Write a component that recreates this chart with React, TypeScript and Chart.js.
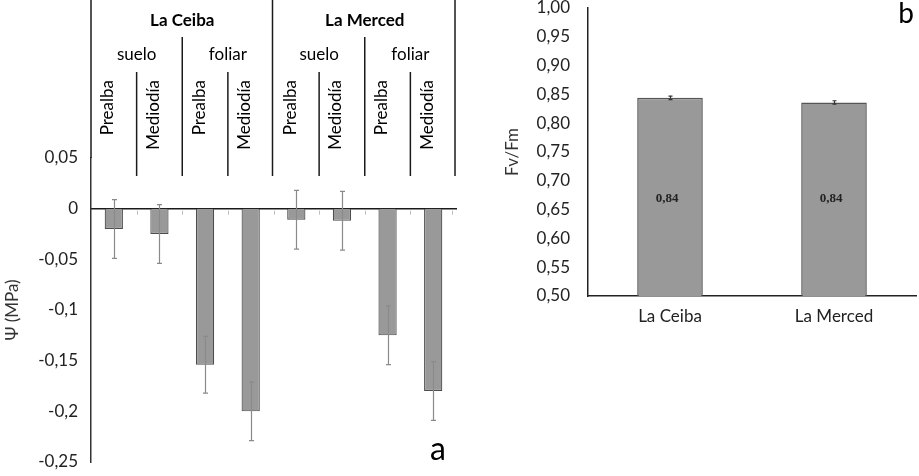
import React, { useEffect, useRef } from "react";
import { Chart, registerables } from "chart.js";
Chart.register(...registerables);

const FONT = "Lato, 'Open Sans', sans-serif";

// ---- Panel a data ----
const sites = ["La Ceiba", "La Merced"];
const sources = ["suelo", "foliar"];
const psiLabels = ["Prealba", "Mediodía", "Prealba", "Mediodía", "Prealba", "Mediodía", "Prealba", "Mediodía"];
const psiValues = [-0.02, -0.025, -0.154, -0.2, -0.011, -0.012, -0.125, -0.18];
const psiErrors = [0.029, 0.029, 0.028, 0.029, 0.029, 0.029, 0.029, 0.029];
const psiTicks = [0.05, 0, -0.05, -0.1, -0.15, -0.2, -0.25];

// ---- Panel b data ----
const fvLabels = ["La Ceiba", "La Merced"];
const fvValues = [0.844, 0.836];
const fvErrors = [0.003, 0.003];
const fvValueLabels = ["0,84", "0,84"];
const fvRounded = [0.84, 0.84];
const fvTicks = [0.5, 0.55, 0.6, 0.65, 0.7, 0.75, 0.8, 0.85, 0.9, 0.95, 1.0];

function fmtGeneral(v: number) {
  const r = Math.round(v * 100) / 100;
  return String(r).replace(".", ",");
}

function errorPlugin(id: string, values: number[], errors: number[], color: string, cap: number, width: number) {
  return {
    id,
    afterDatasetsDraw(chart: any) {
      const meta = chart.getDatasetMeta(0);
      const ys = chart.scales.y;
      const ctx = chart.ctx;
      ctx.save();
      ctx.strokeStyle = color;
      ctx.lineWidth = width;
      meta.data.forEach((bar: any, i: number) => {
        const x = Math.round(bar.x) + 0.5;
        const t = ys.getPixelForValue(values[i] + errors[i]);
        const b = ys.getPixelForValue(values[i] - errors[i]);
        ctx.beginPath();
        ctx.moveTo(x, t);
        ctx.lineTo(x, b);
        ctx.moveTo(x - cap / 2, t);
        ctx.lineTo(x + cap / 2, t);
        ctx.moveTo(x - cap / 2, b);
        ctx.lineTo(x + cap / 2, b);
        ctx.stroke();
      });
      ctx.restore();
    },
  };
}

const headerPlugin = {
  id: "header",
  afterDraw(chart: any) {
    const ctx = chart.ctx;
    const xs = chart.scales.x;
    const ys = chart.scales.y;
    const area = chart.chartArea;
    const half = (xs.getPixelForValue(1) - xs.getPixelForValue(0)) / 2;
    const bx = (i: number) => xs.getPixelForValue(0) - half + i * 2 * half;
    const n = psiLabels.length;
    const yBottom = 176;
    const y0 = ys.getPixelForValue(0);
    ctx.save();
    // small tick marks under the zero line at category boundaries
    ctx.strokeStyle = "#bdbdbd";
    ctx.lineWidth = 1;
    for (let i = 1; i <= n; i++) {
      const x = Math.round(bx(i) - (i === n ? 4 : 0)) + 0.5;
      ctx.beginPath();
      ctx.moveTo(x, y0 + 2);
      ctx.lineTo(x, y0 + 6);
      ctx.stroke();
    }
    ctx.strokeStyle = "#1a1a1a";
    ctx.lineWidth = 1.5;
    const vline = (x: number, a: number, b: number) => {
      ctx.beginPath();
      ctx.moveTo(x, a);
      ctx.lineTo(x, b);
      ctx.stroke();
    };
    // extension of the y axis up through the header
    vline(area.left, 0, area.top);
    for (let i = 1; i <= n; i++) {
      if (i % 4 === 0) vline(bx(i) - 1, 0, yBottom);
      else if (i % 2 === 0) vline(bx(i), 37, yBottom);
      else vline(bx(i), 72, yBottom);
    }
    ctx.fillStyle = "#000";
    ctx.textAlign = "center";
    ctx.textBaseline = "middle";
    ctx.font = `bold 17px ${FONT}`;
    sites.forEach((s, k) => {
      ctx.fillText(s, (bx(k * 4) + bx(k * 4 + 4)) / 2, 21);
    });
    ctx.font = `17px ${FONT}`;
    for (let k = 0; k < n / 2; k++) {
      ctx.fillText(sources[k % 2], (bx(k * 2) + bx(k * 2 + 2)) / 2, 55);
    }
    psiLabels.forEach((lab, i) => {
      const cx = xs.getPixelForValue(i) - 6;
      ctx.save();
      ctx.translate(cx, 80);
      ctx.rotate(-Math.PI / 2);
      ctx.textAlign = "right";
      ctx.textBaseline = "middle";
      ctx.fillText(lab, 0, 0);
      ctx.restore();
    });
    // panel letter
    ctx.font = `32px ${FONT}`;
    ctx.textAlign = "center";
    ctx.textBaseline = "alphabetic";
    ctx.fillText("a", area.right - 18, 460);
    ctx.restore();
  },
};

const valueLabelPlugin = {
  id: "valueLabels",
  afterDraw(chart: any) {
    const meta = chart.getDatasetMeta(0);
    const ys = chart.scales.y;
    const ctx = chart.ctx;
    ctx.save();
    ctx.fillStyle = "#222222";
    ctx.font = "bold 13px serif";
    ctx.textAlign = "center";
    ctx.textBaseline = "middle";
    const base = ys.getPixelForValue(ys.min);
    meta.data.forEach((bar: any, i: number) => {
      const top = ys.getPixelForValue(fvRounded[i]);
      ctx.fillText(fvValueLabels[i], bar.x - 3, (top + base) / 2 + 1);
    });
    ctx.font = `28px ${FONT}`;
    ctx.fillStyle = "#000";
    ctx.textBaseline = "alphabetic";
    ctx.fillText("b", chart.chartArea.right - 10, 23);
    ctx.restore();
  },
};

function PanelA() {
  const ref = useRef<HTMLCanvasElement>(null);
  useEffect(() => {
    const chart = new Chart(ref.current!, {
      type: "bar",
      data: {
        labels: psiLabels,
        datasets: [
          {
            data: psiValues,
            backgroundColor: "#999999",
            borderColor: "#4d4d4d",
            borderWidth: 1.2,
            barPercentage: 0.4,
            categoryPercentage: 1,
          },
        ],
      },
      options: {
        responsive: false,
        animation: false,
        events: [],
        layout: { padding: { top: 158, right: 14, bottom: 14, left: 0 } },
        plugins: { legend: { display: false }, tooltip: { enabled: false } },
        scales: {
          x: {
            position: { y: 0 } as any,
            offset: true,
            grid: { display: false, drawOnChartArea: false, drawTicks: false },
            border: { display: true, color: "#1a1a1a", width: 1.5 },
            ticks: { display: false },
          },
          y: {
            min: -0.25,
            max: 0.05,
            afterBuildTicks: (s: any) => {
              s.ticks = psiTicks.map((v) => ({ value: v }));
            },
            afterFit: (s: any) => {
              s.width = 91;
              s.paddingTop = 0;
              s.paddingBottom = 0;
            },
            grid: { display: false, drawTicks: false },
            border: { color: "#333", width: 1.5 },
            ticks: {
              padding: 13,
              color: "#222",
              font: { family: FONT, size: 17 },
              callback: (v: any) => fmtGeneral(Number(v)),
            },
            title: {
              display: true,
              text: "Ψ (MPa)",
              color: "#333",
              font: { family: FONT, size: 17 },
              padding: { top: 2, bottom: 0 },
            },
          },
        },
      },
      plugins: [errorPlugin("errA", psiValues, psiErrors, "#8a8a8a", 5, 1.2), headerPlugin],
    });
    return () => chart.destroy();
  }, []);
  return (
    <canvas
      ref={ref}
      width={470}
      height={476}
      style={{ position: "absolute", left: 0, top: 0, width: 470, height: 476 }}
    />
  );
}

function PanelB() {
  const ref = useRef<HTMLCanvasElement>(null);
  useEffect(() => {
    const chart = new Chart(ref.current!, {
      type: "bar",
      data: {
        labels: fvLabels,
        datasets: [
          {
            data: fvValues,
            backgroundColor: "#999999",
            borderColor: "#555555",
            borderWidth: 1.5,
            barPercentage: 0.4,
            categoryPercentage: 1,
          },
        ],
      },
      options: {
        responsive: false,
        animation: false,
        events: [],
        layout: { padding: { top: 8, right: 3, bottom: 0, left: 0 } },
        plugins: { legend: { display: false }, tooltip: { enabled: false } },
        scales: {
          x: {
            grid: { display: false, drawTicks: false },
            border: { color: "#222", width: 1.5 },
            afterFit: (s: any) => {
              s.height = 34;
            },
            ticks: { padding: 10, color: "#222", font: { family: FONT, size: 17 } },
          },
          y: {
            min: 0.5,
            max: 1.0,
            afterBuildTicks: (s: any) => {
              s.ticks = fvTicks.map((v) => ({ value: v }));
            },
            afterFit: (s: any) => {
              s.width = 128;
              s.paddingTop = 0;
              s.paddingBottom = 0;
            },
            grid: { display: false, drawTicks: false },
            border: { color: "#222", width: 1.5 },
            ticks: {
              padding: 18,
              color: "#222",
              font: { family: FONT, size: 17 },
              callback: (v: any) => Number(v).toFixed(2).replace(".", ","),
            },
            title: {
              display: true,
              text: "Fv/Fm",
              color: "#333",
              font: { family: FONT, size: 17 },
              padding: { top: 42, bottom: 0 },
            },
          },
        },
      },
      plugins: [errorPlugin("errB", fvValues, fvErrors, "#333", 4, 1.2), valueLabelPlugin],
    });
    return () => chart.destroy();
  }, []);
  return (
    <canvas
      ref={ref}
      width={459}
      height={330}
      style={{ position: "absolute", left: 460, top: 0, width: 459, height: 330 }}
    />
  );
}

export default function App() {
  return (
    <div style={{ position: "absolute", left: 0, top: 0, width: 919, height: 476, background: "#fff" }}>
      <PanelA />
      <PanelB />
    </div>
  );
}
